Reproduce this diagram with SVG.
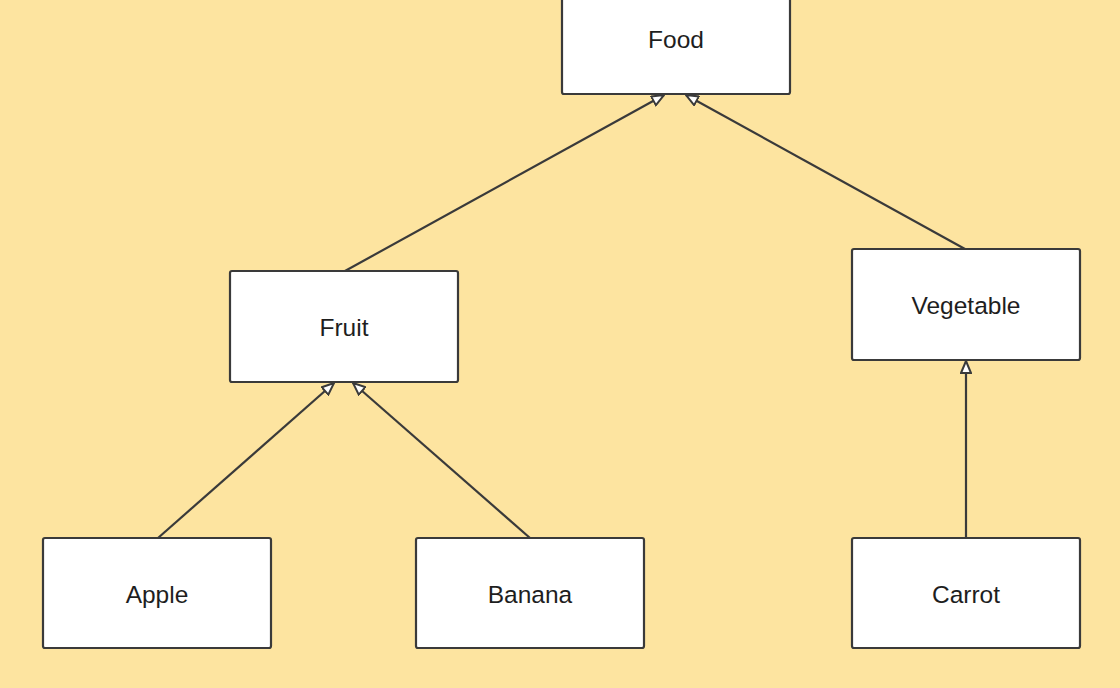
<svg xmlns="http://www.w3.org/2000/svg" width="1120" height="688" viewBox="0 0 1120 688">
<defs>
<style>
.node rect{fill:#ffffff;stroke:#3a3a3a;stroke-width:2.2;}
.node text{font-family:"Liberation Sans",Arial,sans-serif;font-size:24.5px;fill:#1e1e1e;text-anchor:middle;dominant-baseline:central;}
.edge{stroke:#3a3a3a;stroke-width:2.2;fill:none;marker-end:url(#tri);}
</style>
<marker id="tri" viewBox="0 0 14 12" refX="13" refY="6" markerWidth="14" markerHeight="12" markerUnits="userSpaceOnUse" orient="auto">
<path d="M1,1 L13,6 L1,11 Z" fill="#ffffff" stroke="#3a3a3a" stroke-width="2"/>
</marker>
</defs>
<rect x="0" y="0" width="1120" height="688" fill="#fde4a0"/>
<g id="connectors">
<line class="edge" x1="345" y1="271" x2="664" y2="95"/>
<line class="edge" x1="965" y1="249" x2="686" y2="95"/>
<line class="edge" x1="158" y1="538" x2="334" y2="383"/>
<line class="edge" x1="530" y1="538" x2="353" y2="383"/>
<line class="edge" x1="966" y1="538" x2="966" y2="361"/>
</g>
<g id="food" class="node"><rect x="562" y="-20" width="228" height="114" rx="2"/><text x="676" y="39">Food</text></g>
<g id="fruit" class="node"><rect x="230" y="271" width="228" height="111" rx="2"/><text x="344" y="327">Fruit</text></g>
<g id="vegetable" class="node"><rect x="852" y="249" width="228" height="111" rx="2"/><text x="966" y="305">Vegetable</text></g>
<g id="apple" class="node"><rect x="43" y="538" width="228" height="110" rx="2"/><text x="157" y="594">Apple</text></g>
<g id="banana" class="node"><rect x="416" y="538" width="228" height="110" rx="2"/><text x="530" y="594">Banana</text></g>
<g id="carrot" class="node"><rect x="852" y="538" width="228" height="110" rx="2"/><text x="966" y="594">Carrot</text></g>
</svg>
